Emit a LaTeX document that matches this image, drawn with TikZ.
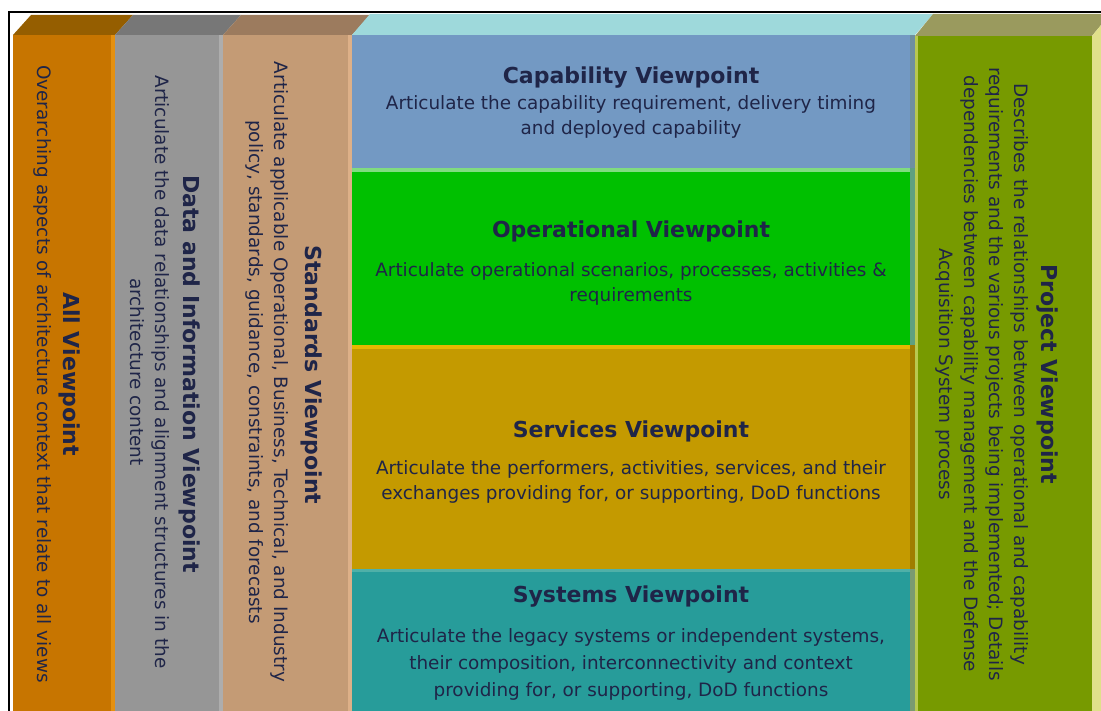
\documentclass[tikz,border=0pt]{standalone}
\usepackage{fontspec}
\setmainfont{DejaVu Sans}
\usepackage{tikz}

\definecolor{txt}{HTML}{1F2548}
\definecolor{allfront}{HTML}{C77500}
\definecolor{allside}{HTML}{E5900E}
\definecolor{alltop}{HTML}{955E00}
\definecolor{datafront}{HTML}{969696}
\definecolor{dataside}{HTML}{ADADAD}
\definecolor{datatop}{HTML}{777777}
\definecolor{stdfront}{HTML}{C49B75}
\definecolor{stdside}{HTML}{DDB088}
\definecolor{stdtop}{HTML}{9C7B5E}
\definecolor{captop}{HTML}{9ED9DB}
\definecolor{capfront}{HTML}{7399C3}
\definecolor{capside}{HTML}{6F8FA0}
\definecolor{opfront}{HTML}{00C000}
\definecolor{opline}{HTML}{80DC80}
\definecolor{opside}{HTML}{5FA080}
\definecolor{svfront}{HTML}{C49A00}
\definecolor{svline}{HTML}{E6B800}
\definecolor{svside}{HTML}{A07D00}
\definecolor{syfront}{HTML}{279C9A}
\definecolor{syline}{HTML}{4FB0A8}
\definecolor{syside}{HTML}{7A9A70}
\definecolor{prjfront}{HTML}{779A00}
\definecolor{prjtop}{HTML}{9A9A5E}
\definecolor{prjside}{HTML}{E0E08A}
\definecolor{prjedge}{HTML}{B8C850}

\tikzset{
vtitle/.style={font=\fontsize{22}{26}\selectfont\bfseries, text=txt, inner sep=0pt},
vdesc/.style={font=\fontsize{18.4}{25}\selectfont, text=txt, inner sep=0pt, align=center}
}

\begin{document}
\begin{tikzpicture}[x=1pt,y=-1pt]
\clip (0,0) rectangle (1101,711);
\fill[white] (0,0) rectangle (1101,711);
\draw[line width=2pt] (9,720) -- (9,12) -- (1110,12);

% left columns
\fill[allfront] (13,35) rectangle (111,711);
\fill[allside] (111,35) rectangle (115,711);
\fill[alltop] (13,35) -- (31,15) -- (133,15) -- (115,35) -- cycle;
\fill[datafront] (115,35) rectangle (219,711);
\fill[dataside] (219,35) rectangle (223,711);
\fill[datatop] (115,35) -- (133,15) -- (241,15) -- (223,35) -- cycle;
\fill[stdfront] (223,35) rectangle (348,711);
\fill[stdside] (348,35) rectangle (352,711);
\fill[stdtop] (223,35) -- (241,15) -- (370,15) -- (352,35) -- cycle;

% middle stack
\fill[captop] (352,35) -- (370,14) -- (933,14) -- (915,35) -- cycle;
\fill[capfront] (352,35) rectangle (910,168);
\fill[capside] (910,35) rectangle (915,168);
\fill[opfront] (352,168) rectangle (910,345);
\fill[opline] (352,168) rectangle (910,172);
\fill[opside] (910,168) rectangle (915,345);
\fill[svfront] (352,345) rectangle (910,569);
\fill[svline] (352,345) rectangle (910,349);
\fill[svside] (910,345) rectangle (915,569);
\fill[syfront] (352,569) rectangle (910,711);
\fill[syline] (352,569) rectangle (910,572);
\fill[syside] (910,569) rectangle (915,711);

% right column
\fill[prjtop] (915,36) -- (933,14) -- (1110,14) -- (1092,36) -- cycle;
\fill[prjfront] (915,36) rectangle (1092,711);
\fill[prjedge] (915,36) rectangle (918,711);
\fill[prjside] (1092,36) -- (1110,14) -- (1110,711) -- (1092,711) -- cycle;

\node[vtitle, rotate=-90] at (70,374) (alltitle) {All Viewpoint};
\node[vdesc, rotate=-90] at (43,374) (alldesc) {Overarching aspects of architecture context that relate to all views};
\node[vtitle, rotate=-90] at (190,374) (datatitle) {Data and Information Viewpoint};
\node[vdesc, rotate=-90] at (150,372) (datadesc) {Articulate the data relationships and alignment structures in the\\architecture content};
\node[vtitle, rotate=-90] at (312,375) (stdtitle) {Standards Viewpoint};
\node[vdesc, rotate=-90] at (267,372) (stddesc) {Articulate applicable Operational, Business, Technical, and Industry\\policy, standards, guidance, constraints, and forecasts};

\node[vtitle] at (631,78) (captitle) {Capability Viewpoint};
\node[vdesc] at (631,117) (capdesc) {Articulate the capability requirement, delivery timing\\and deployed capability};
\node[vtitle] at (631,231) (optitle) {Operational Viewpoint};
\node[vdesc] at (631,284) (opdesc) {Articulate operational scenarios, processes, activities \&\\requirements};
\node[vtitle] at (631,431) (svtitle) {Services Viewpoint};
\node[vdesc] at (631,482) (svdesc) {Articulate the performers, activities, services, and their\\exchanges providing for, or supporting, DoD functions};
\node[vtitle] at (631,597) (sytitle) {Systems Viewpoint};
\node[vdesc, font=\fontsize{18.4}{27}\selectfont] at (631,664) (sydesc) {Articulate the legacy systems or independent systems,\\their composition, interconnectivity and context\\providing for, or supporting, DoD functions};

\node[vtitle, rotate=-90] at (1047,374) (prjtitle) {Project Viewpoint};
\node[vdesc, rotate=-90] at (982,374) (prjdesc) {Describes the relationships between operational and capability\\requirements and the various projects being implemented; Details\\dependencies between capability management and the Defense\\Acquisition System process};
\end{tikzpicture}
\end{document}
